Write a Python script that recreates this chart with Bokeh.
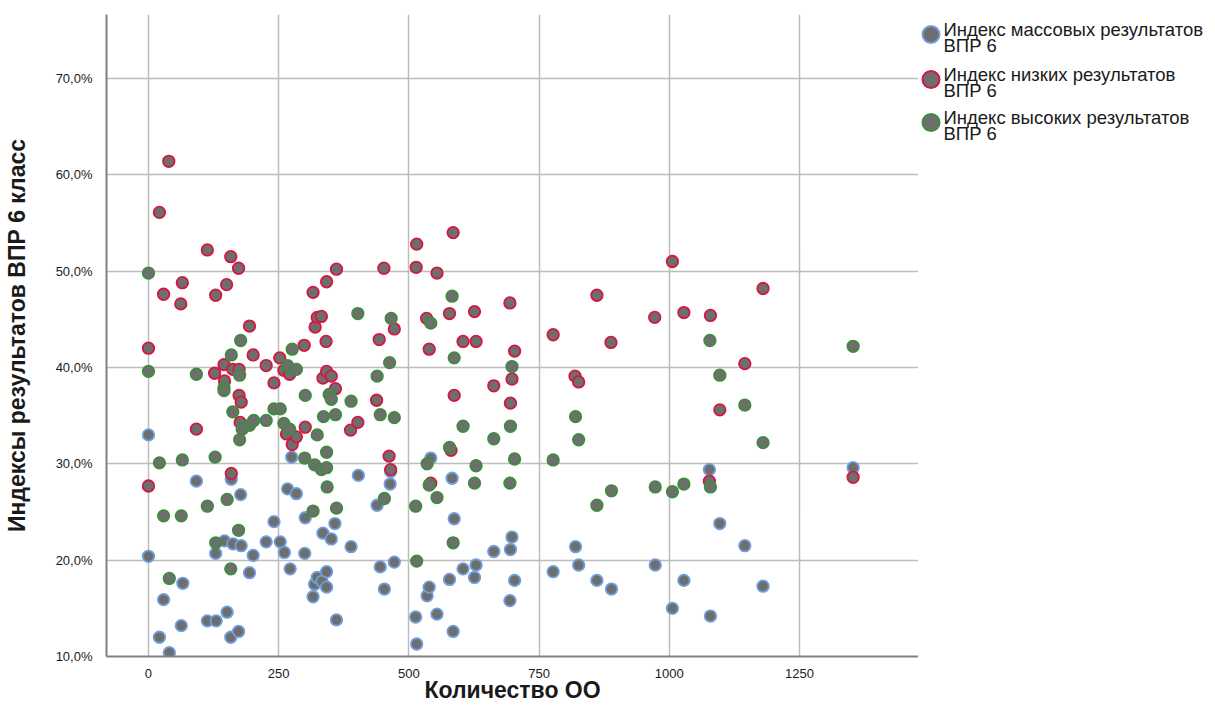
from bokeh.plotting import figure
from bokeh.layouts import row
from bokeh.models import Range1d, FixedTicker, ColumnDataSource
from bokeh.core.properties import value
from bokeh.embed import file_html
from bokeh.resources import INLINE

# ---- data ----
mass_x = [0, 0, 21, 29, 40, 63, 66, 92, 113, 129, 130, 146, 151, 158, 159, 162, 173, 177, 178, 194,
          201, 226, 241, 253, 261, 267, 272, 275, 284, 300, 301, 316, 319, 324, 333, 335, 342, 342, 351, 358,
          361, 389, 403, 439, 445, 453, 464, 465, 472, 513, 515, 535, 539, 542, 554, 578, 583, 585, 587, 604,
          626, 629, 663, 694, 695, 698, 703, 777, 820, 826, 861, 889, 973, 1006, 1028, 1077, 1079, 1097, 1145, 1180,
          1353]
mass_y = [33.0, 20.4, 12.0, 15.9, 10.4, 13.2, 17.6, 28.2, 13.7, 20.7, 13.7, 22.0, 14.6, 12.0, 28.4, 21.7, 12.6, 26.8, 21.5, 18.7,
          20.5, 21.9, 24.0, 21.9, 20.8, 27.4, 19.1, 30.7, 26.9, 20.7, 24.4, 16.2, 17.5, 18.2, 17.8, 22.8, 18.8, 17.2, 22.2, 23.8,
          13.8, 21.4, 28.8, 25.7, 19.3, 17.0, 27.9, 29.2, 19.8, 14.1, 11.3, 16.3, 17.2, 30.6, 14.4, 18.0, 28.5, 12.6, 24.3, 19.1,
          18.2, 19.5, 20.9, 15.8, 21.1, 22.4, 17.9, 18.8, 21.4, 19.5, 17.9, 17.0, 19.5, 15.0, 17.9, 29.4, 14.2, 23.8, 21.5, 17.3,
          29.6]

low_x = [0, 0, 21, 29, 39, 62, 65, 92, 113, 127, 129, 145, 146, 150, 158, 159, 162, 173, 174, 174,
         176, 178, 194, 201, 226, 241, 252, 260, 265, 271, 276, 284, 299, 301, 316, 320, 324, 332, 335, 341,
         342, 342, 351, 359, 361, 388, 402, 438, 443, 452, 462, 465, 472, 514, 515, 534, 539, 542, 554, 578,
         581, 585, 587, 604, 626, 629, 663, 694, 695, 698, 703, 777, 819, 826, 861, 888, 972, 1006, 1028, 1077,
         1079, 1097, 1145, 1180, 1353]
low_y = [42.0, 27.7, 56.1, 47.6, 61.4, 46.6, 48.8, 33.6, 52.2, 39.4, 47.5, 40.3, 38.6, 48.6, 51.5, 29.0, 39.8, 50.3, 39.8, 37.1,
         34.3, 36.4, 44.3, 41.3, 40.2, 38.4, 41.0, 39.7, 33.1, 39.3, 32.0, 32.8, 42.3, 33.8, 47.8, 44.2, 45.2, 45.3, 38.9, 42.7,
         39.6, 48.9, 39.1, 37.8, 50.2, 33.5, 34.3, 36.6, 42.9, 50.3, 30.8, 29.4, 44.0, 50.4, 52.8, 45.1, 41.9, 28.0, 49.8, 45.6,
         31.4, 54.0, 37.1, 42.7, 45.8, 42.7, 38.1, 46.7, 36.3, 38.8, 41.7, 43.4, 39.1, 38.5, 47.5, 42.6, 45.2, 51.0, 45.7, 28.2,
         45.4, 35.6, 40.4, 48.2, 28.6]

high_x = [0, 0, 21, 29, 40, 63, 65, 92, 113, 128, 129, 145, 145, 151, 158, 159, 162, 173, 175, 175,
          177, 180, 194, 202, 226, 241, 253, 260, 267, 271, 276, 284, 300, 301, 316, 319, 324, 332, 336, 342,
          342, 343, 347, 351, 359, 361, 389, 402, 439, 445, 453, 463, 466, 472, 513, 515, 535, 539, 542, 554,
          578, 583, 585, 587, 604, 626, 629, 663, 694, 695, 698, 703, 777, 820, 826, 861, 889, 973, 1006, 1028,
          1078, 1079, 1097, 1145, 1180, 1353]
high_y = [49.8, 39.6, 30.1, 24.6, 18.1, 24.6, 30.4, 39.3, 25.6, 30.7, 21.8, 37.9, 37.6, 26.3, 19.1, 41.3, 35.4, 23.1, 39.2, 32.5,
          42.8, 33.6, 34.0, 34.5, 34.5, 35.7, 35.7, 34.2, 40.2, 33.6, 41.9, 39.8, 30.6, 37.1, 25.1, 29.9, 33.0, 29.4, 34.9, 31.2,
          29.6, 27.6, 37.2, 36.7, 35.1, 25.4, 36.5, 45.6, 39.1, 35.1, 26.4, 40.5, 45.1, 34.8, 25.6, 19.9, 30.0, 27.8, 44.6, 26.5,
          31.7, 47.4, 21.8, 41.0, 33.9, 28.0, 29.8, 32.6, 28.0, 33.9, 40.1, 30.5, 30.4, 34.9, 32.5, 25.7, 27.2, 27.6, 27.1, 27.9,
          42.8, 27.6, 39.2, 36.1, 32.2, 42.2]

series_names = ["Индекс массовых результатов\nВПР 6",
                "Индекс низких результатов\nВПР 6",
                "Индекс высоких результатов\nВПР 6"]
x_ticks = [0, 250, 500, 750, 1000, 1250]
y_ticks = [10, 20, 30, 40, 50, 60, 70]
y_tick_labels = ["10,0%", "20,0%", "30,0%", "40,0%", "50,0%", "60,0%", "70,0%"]
x_title = "Количество ОО"
y_title = "Индексы результатов ВПР 6 класс"

# ---- styles ----
FILL = "#6e6e6e"
EDGE = ["#6f9fdc", "#d6173f", "#3d8d3d"]
FONT = "Liberation Sans"
TXT = "#1a1a1a"
TOP = 14
FH = 642
BOT = 52

p = figure(frame_width=812, frame_height=FH,
           min_border_left=98, min_border_top=TOP, min_border_bottom=BOT, min_border_right=0,
           x_range=Range1d(-80.6, 1478.5), y_range=Range1d(10, 76.64),
           toolbar_location=None, output_backend="svg")
p.outline_line_color = None
p.background_fill_color = "white"
p.border_fill_color = "white"

for g in (p.xgrid, p.ygrid):
    g.grid_line_color = "#bdbdbd"
    g.grid_line_width = 1.5
p.xgrid.ticker = FixedTicker(ticks=x_ticks)
p.ygrid.ticker = FixedTicker(ticks=y_ticks)

p.xaxis.ticker = FixedTicker(ticks=x_ticks)
p.yaxis.ticker = FixedTicker(ticks=y_ticks)
p.yaxis.major_label_overrides = {t: l for t, l in zip(y_ticks, y_tick_labels)}
for ax in (p.xaxis, p.yaxis):
    ax.axis_line_color = "#808080"
    ax.axis_line_width = 2
    ax.major_tick_line_color = None
    ax.minor_tick_line_color = None
    ax.major_label_text_font = FONT
    ax.major_label_text_font_size = "13px"
    ax.major_label_text_color = TXT
    ax.axis_label_text_font = FONT
    ax.axis_label_text_font_style = "bold"
    ax.axis_label_text_font_size = "23px"
    ax.axis_label_text_color = TXT
p.xaxis.axis_label = x_title
p.yaxis.axis_label = y_title
p.xaxis.major_label_standoff = 6
p.xaxis.axis_label_standoff = -4
p.yaxis.major_label_standoff = 8
p.yaxis.axis_label_standoff = 23

for (xs, ys), edge in zip([(mass_x, mass_y), (low_x, low_y), (high_x, high_y)], EDGE):
    p.scatter(x=xs, y=ys, size=11.5, marker="circle", fill_color=FILL,
              line_color=edge, line_width=1.8)

# ---- legend panel (its frame is aligned with the main frame by the row layout;
#      y coordinates below are page pixels) ----
LW = 286
lg = figure(width=LW, height=FH + TOP + BOT, x_range=Range1d(0, LW),
            y_range=Range1d(TOP + FH, TOP),
            toolbar_location=None, output_backend="svg", min_border=0)
lg.axis.visible = False
lg.grid.visible = False
lg.outline_line_color = None

cy = [34, 79, 122]
lg.scatter(x=[12.5] * 3, y=cy, size=17, marker="circle", fill_color=FILL,
           line_color=EDGE, line_width=2)
lines1 = [n.split("\n")[0] for n in series_names]
lines2 = [n.split("\n")[1] for n in series_names]
src = ColumnDataSource(dict(x=[25] * 6,
                            y=[c - 5.5 for c in cy] + [c + 11 for c in cy],
                            t=lines1 + lines2))
lg.text(x="x", y="y", text="t", source=src, text_font=value(FONT), text_font_size="18.5px",
        text_color=TXT, text_baseline="middle", text_align="left")

layout = row(p, lg, spacing=0)
open("out.html", "w").write(file_html(layout, INLINE))
